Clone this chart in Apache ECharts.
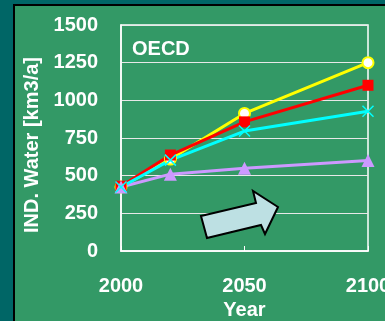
<!DOCTYPE html>
<html>
<head>
<meta charset="utf-8">
<script src="https://cdn.jsdelivr.net/npm/echarts@6/dist/echarts.min.js"></script>
<style>
  html, body { margin: 0; padding: 0; background: #006666; overflow: hidden; }
  .panel {
    position: absolute; left: 13px; top: 4px; width: 400px; height: 340px;
    background: #339966; border-left: 2px solid #000; border-top: 2px solid #000;
  }
  #chart { position: absolute; left: 0; top: 0; width: 385px; height: 321px; }
</style>
</head>
<body>
<div class="panel"></div>
<div id="chart"></div>
<script>
// 年份 / 数值
const years = [2000, 2020, 2050, 2100]
const yellowVals = [425, 610, 913, 1250]
const redVals = [430, 637, 857, 1100]
const cyanVals = [425, 603, 796, 928]
const purpleVals = [425, 510, 550, 600]

const font = "'Liberation Sans', Arial, sans-serif"
const chart = echarts.init(document.getElementById('chart'))

const mk = (vals, color, symbol, size, style) => ({
  type: 'line',
  data: years.map((y, i) => [y, vals[i]]),
  symbol: symbol,
  symbolSize: size,
  lineStyle: { color: color, width: 3 },
  itemStyle: Object.assign({ color: color }, style || {}),
  animation: false
})

const plain = (v) => String(v)

chart.setOption({
  backgroundColor: 'transparent',
  textStyle: { fontFamily: font },
  title: {
    text: 'OECD',
    left: 127,
    top: 34,
    textStyle: { color: '#fff', fontSize: 20, fontWeight: 'bold', fontFamily: font }
  },
  grid: {
    left: 121, right: 17, top: 25, bottom: 70,
    outerBoundsMode: 'none', containLabel: false,
    show: true, borderColor: '#fff', borderWidth: 1.5, backgroundColor: 'transparent'
  },
  xAxis: {
    type: 'value', min: 2000, max: 2100, interval: 50,
    name: 'Year', nameLocation: 'middle', nameGap: 41,
    nameTextStyle: { color: '#fff', fontSize: 20, fontWeight: 'bold', fontFamily: font },
    axisLine: { lineStyle: { color: '#fff', width: 1.5 } },
    axisTick: { show: true, inside: true, length: 5, lineStyle: { color: '#fff', width: 1 } },
    axisLabel: { color: '#fff', fontSize: 20, fontWeight: 'bold', margin: 25, fontFamily: font, formatter: plain },
    splitLine: { show: false }
  },
  yAxis: {
    type: 'value', min: 0, max: 1500, interval: 250,
    name: 'IND. Water [km3/a]', nameLocation: 'middle', nameGap: 72, nameRotate: 90,
    nameTextStyle: { color: '#fff', fontSize: 20, fontWeight: 'bold', fontFamily: font, padding: [0, 14, 0, 0] },
    axisLine: { show: true, lineStyle: { color: '#fff', width: 1.5 } },
    axisTick: { show: false },
    axisLabel: { color: '#fff', fontSize: 20, fontWeight: 'bold', margin: 23, fontFamily: font, formatter: plain },
    splitLine: { lineStyle: { color: '#e8e8e8', width: 1 } }
  },
  graphic: [{
    type: 'polygon',
    shape: {
      points: [[201, 216], [256, 203], [253, 191], [278, 207], [265, 234], [261, 225], [207, 238]]
    },
    style: { fill: '#bde0e3', stroke: '#000', lineWidth: 2 },
    z: 10
  }],
  series: [
    mk(yellowVals, '#ffff00', 'circle', 11, { color: '#fff', borderColor: '#ffff00', borderWidth: 2 }),
    mk(redVals, '#ff0000', 'rect', 11),
    mk(purpleVals, '#cc99ff', 'triangle', 13),
    mk(cyanVals, '#00ffff', 'path://M0,0L10,10M10,0L0,10', 11, { borderColor: '#00ffff', borderWidth: 1.5 })
  ]
})
</script>
</body>
</html>
